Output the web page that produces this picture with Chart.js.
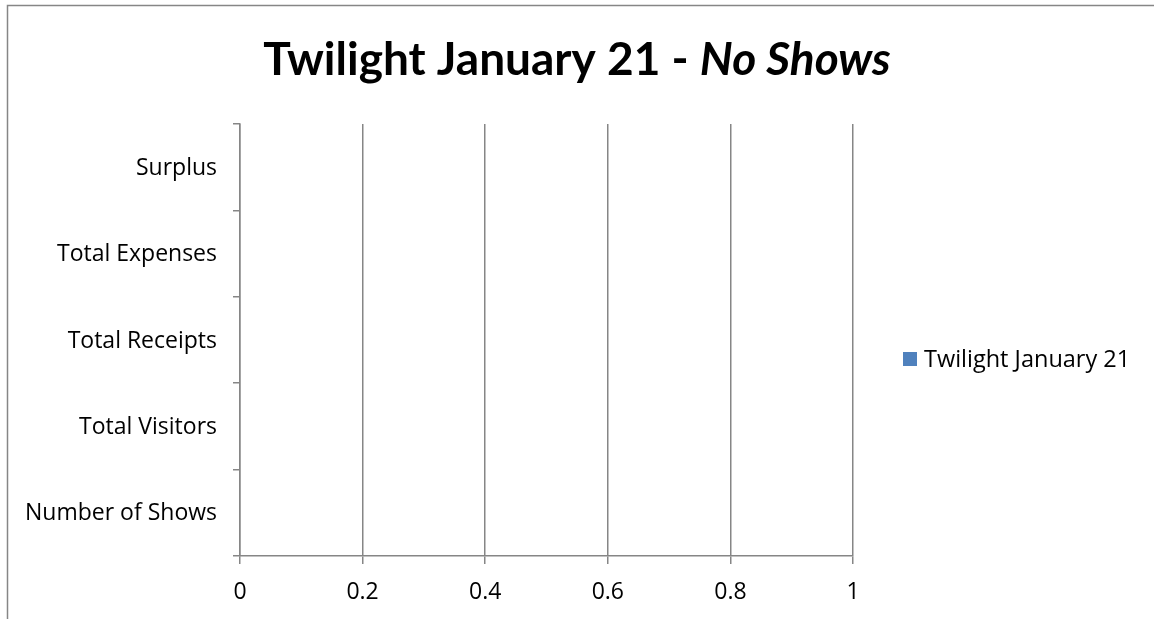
<!DOCTYPE html>
<html>
<head>
<meta charset="utf-8">
<script src="https://cdn.jsdelivr.net/npm/chart.js@4"></script>
<style>
  html, body { margin: 0; padding: 0; background: #fff; }
  #wrap { width: 1154px; height: 619px; position: relative; }
</style>
</head>
<body>
<div id="wrap"><canvas id="c" width="1154" height="619"></canvas></div>
<script>
// Categories listed top to bottom as they appear on the vertical axis
const categories = ['Surplus', 'Total Expenses', 'Total Receipts', 'Total Visitors', 'Number of Shows'];
// No shows took place, so every figure is zero
const seriesName = 'Twilight January 21';
const seriesValues = [0, 0, 0, 0, 0];
const xTicks = [0, 0.2, 0.4, 0.6, 0.8, 1];
const titleMain = 'Twilight January 21 - ';
const titleItalic = 'No Shows';

const FONT = '"Open Sans", Lato, sans-serif';
const TITLE_FONT = 'Lato, "Open Sans", sans-serif';
const LABEL_SIZE = 23;
const GRID = '#868686';
const BAR = '#4F81BD';

// Outer frame of the chart object, the two-style title and the legend
const framePlugin = {
  id: 'frameAndTitle',
  beforeDraw(chart) {
    const ctx = chart.ctx;
    ctx.save();
    ctx.fillStyle = '#fff';
    ctx.fillRect(0, 0, chart.width, chart.height);
    ctx.strokeStyle = GRID;
    ctx.lineWidth = 1.5;
    ctx.strokeRect(7.5, 5.5, chart.width + 20, chart.height + 20);
    ctx.restore();
  },
  afterDraw(chart) {
    const ctx = chart.ctx;
    ctx.save();
    ctx.fillStyle = '#000';
    ctx.textBaseline = 'alphabetic';
    const f1 = 'bold 46px ' + TITLE_FONT;
    const f2 = 'italic bold 46px ' + TITLE_FONT;
    ctx.font = f1;
    const w1 = ctx.measureText(titleMain).width;
    ctx.font = f2;
    const w2 = ctx.measureText(titleItalic).width;
    const x0 = 577 - (w1 + w2) / 2;
    ctx.font = f1;
    ctx.fillText(titleMain, x0, 75);
    ctx.font = f2;
    ctx.fillText(titleItalic, x0 + w1, 75);

    // Legend on the right
    const ds = chart.data.datasets[0];
    ctx.fillStyle = ds.backgroundColor;
    ctx.fillRect(903, 352, 14, 14);
    ctx.fillStyle = '#000';
    ctx.font = '23.5px ' + FONT;
    ctx.textBaseline = 'alphabetic';
    ctx.fillText(ds.label, 924, 367);
    ctx.restore();
  }
};

new Chart(document.getElementById('c'), {
  type: 'bar',
  data: {
    labels: categories,
    datasets: [{
      label: seriesName,
      data: seriesValues,
      backgroundColor: BAR,
      borderWidth: 0
    }]
  },
  options: {
    indexAxis: 'y',
    responsive: false,
    animation: false,
    devicePixelRatio: 1,
    layout: { padding: { top: 124, right: 301, left: 0, bottom: 0 } },
    plugins: {
      legend: { display: false },
      title: { display: false },
      tooltip: { enabled: false }
    },
    scales: {
      x: {
        type: 'linear',
        min: 0,
        max: 1,
        afterBuildTicks(scale) { scale.ticks = xTicks.map(v => ({ value: v })); },
        afterFit(scale) { scale.height = 63; },
        ticks: {
          color: '#000',
          font: { family: FONT, size: LABEL_SIZE },
          padding: 15,
          callback: v => String(v)
        },
        grid: {
          color: GRID,
          lineWidth: 1.5,
          tickLength: 8,
          drawTicks: true
        },
        border: { color: GRID, width: 1.5 }
      },
      y: {
        type: 'category',
        afterFit(scale) { scale.width = 240; },
        ticks: {
          color: '#000',
          font: { family: FONT, size: LABEL_SIZE },
          padding: 16,
          labelOffset: 1
        },
        grid: {
          color: GRID,
          lineWidth: 1.5,
          drawOnChartArea: false,
          drawTicks: true,
          tickLength: 7,
          offset: true
        },
        border: { color: GRID, width: 1.5 }
      }
    }
  },
  plugins: [framePlugin]
});
</script>
</body>
</html>
